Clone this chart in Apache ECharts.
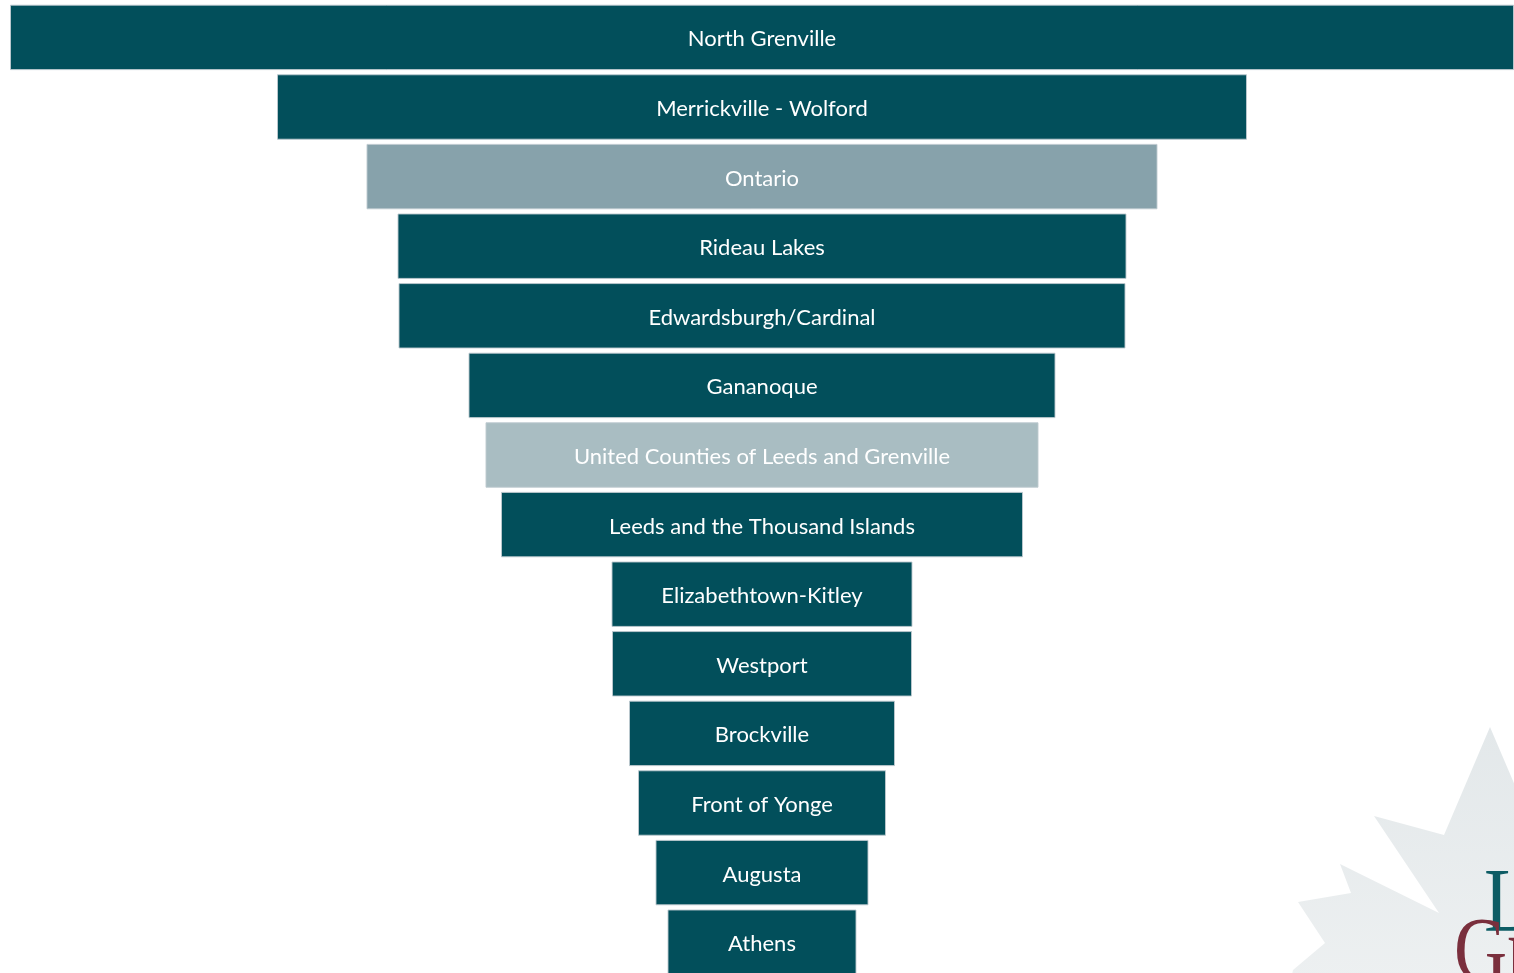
<!DOCTYPE html>
<html>
<head>
<meta charset="utf-8">
<script src="https://cdn.jsdelivr.net/npm/echarts@6/dist/echarts.min.js"></script>
<style>
  html, body { margin: 0; padding: 0; background: #ffffff; }
  #chart { width: 1514px; height: 973px; }
</style>
</head>
<body>
<div id="chart"></div>
<script>
// Categories (top to bottom) and their values
const categories = [
  'North Grenville',
  'Merrickville - Wolford',
  'Ontario',
  'Rideau Lakes',
  'Edwardsburgh/Cardinal',
  'Gananoque',
  'United Counties of Leeds and Grenville',
  'Leeds and the Thousand Islands',
  'Elizabethtown-Kitley',
  'Westport',
  'Brockville',
  'Front of Yonge',
  'Augusta',
  'Athens'
];
const values = [150.4, 97.0, 79.1, 72.9, 72.7, 58.7, 55.3, 52.2, 30.1, 30.0, 26.6, 24.8, 21.3, 18.9];
// Highlighted (reference) rows
const provinceRows = ['Ontario'];
const countyRows = ['United Counties of Leeds and Grenville'];

const maxValue = Math.max.apply(null, values);
const DARK = '#024f5b';
const ONT = '#87a2ab';
const UC = '#a9bdc2';

const offsetData = values.map(v => (maxValue - v) / 2);
const barData = values.map((v, i) => {
  const name = categories[i];
  let color = DARK;
  if (provinceRows.indexOf(name) >= 0) color = ONT;
  if (countyRows.indexOf(name) >= 0) color = UC;
  return { value: v, itemStyle: { color: color } };
});

const chart = echarts.init(document.getElementById('chart'), null, { renderer: 'canvas' });

const option = {
  animation: false,
  backgroundColor: '#ffffff',
  graphic: [
    {
      type: 'polygon',
      z: -10,
      silent: true,
      shape: {
        points: [
          [1490, 727], [1444, 835], [1374, 816], [1439, 913], [1340, 864],
          [1351, 893], [1298, 902], [1325, 943], [1293, 970], [1290, 985],
          [1530, 985], [1530, 790], [1516, 788]
        ]
      },
      style: {
        fill: new echarts.graphic.LinearGradient(0, 0, 0, 1, [
          { offset: 0, color: '#e3e8ea' },
          { offset: 1, color: '#edf0f1' }
        ])
      }
    },
    {
      type: 'text',
      z: -9,
      silent: true,
      x: 1484,
      y: 861,
      scaleX: 0.85,
      style: {
        text: 'L',
        font: '92px "Liberation Serif", serif',
        fill: '#0d5c64'
      }
    },
    {
      type: 'text',
      z: -9,
      silent: true,
      x: 1454,
      y: 910,
      scaleX: 0.8,
      style: {
        text: 'Gr',
        font: '92px "Liberation Serif", serif',
        fill: '#7a2f3d'
      }
    }
  ],
  grid: {
    left: 10,
    top: 2.6,
    width: 1504,
    height: 974.4,
    containLabel: false,
    outerBoundsMode: 'none'
  },
  xAxis: {
    type: 'value',
    min: 0,
    max: maxValue,
    show: false
  },
  yAxis: {
    type: 'category',
    data: categories,
    inverse: true,
    show: false
  },
  series: [
    {
      type: 'bar',
      stack: 'funnel',
      data: offsetData,
      itemStyle: { color: 'transparent' },
      barCategoryGap: '6%',
      silent: true
    },
    {
      type: 'bar',
      stack: 'funnel',
      data: barData,
      barCategoryGap: '6%',
      itemStyle: { borderColor: 'rgba(190,202,207,0.9)', borderWidth: 1 },
      label: {
        show: true,
        position: 'inside',
        offset: [0, 2],
        formatter: p => p.name,
        color: '#ffffff',
        fontFamily: 'Lato, "Open Sans", sans-serif',
        fontSize: 22
      }
    }
  ]
};
chart.setOption(option);
</script>
</body>
</html>
